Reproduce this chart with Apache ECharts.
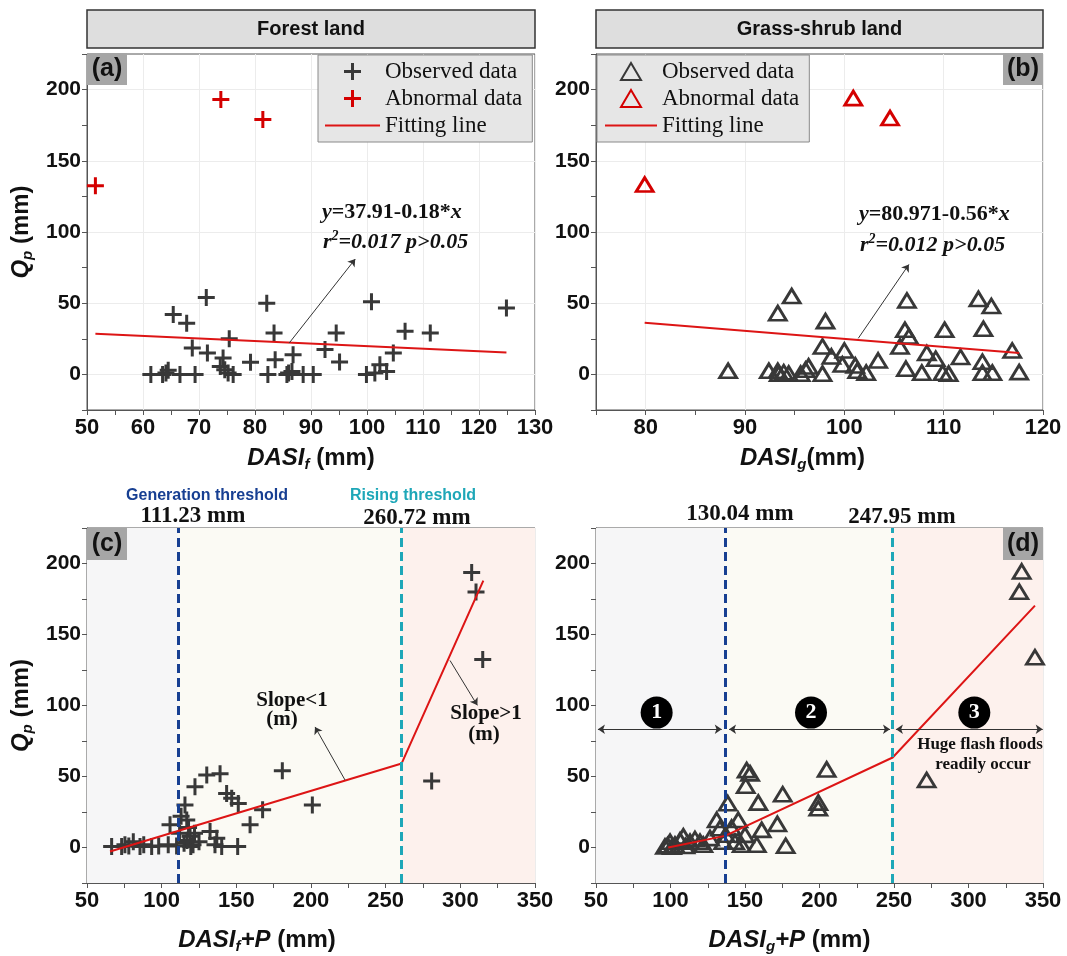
<!DOCTYPE html>
<html><head><meta charset="utf-8">
<script src="https://cdn.jsdelivr.net/npm/echarts@6/dist/echarts.min.js"></script>
<style>html,body{margin:0;padding:0;background:#fff}#c{width:1067px;height:956px}</style>
</head><body><div id="c"></div>
<script>
// ---------------- data ----------------
const forestObs = [[61.4,0],[63.5,0],[64.1,1],[64.5,3],[66.6,0],[69.3,0],[65.4,42],[67.8,36],[71.3,54],[68.8,18.5],[71.5,15],[74.3,11.5],[73.8,5.6],[74.6,3.3],[75.2,1],[76.1,0],[75.4,25],[79.2,8.5],[82.1,50],[82.3,0],[83.4,29],[83.6,10.3],[85.7,0],[86,1],[86.6,2],[86.8,13.8],[88.6,0],[90.4,0],[92.5,17.4],[94.5,29],[95.1,8.7],[99.9,0],[100.8,51],[101.4,1],[102.3,6.8],[103.5,2],[104.7,15],[106.8,30.3],[111.3,29],[124.9,46.7]];
const forestAbn = [[51.5,132.5],[73.9,193],[81.4,179]];
const forestFit = [[51.5,28.6],[124.9,15.4]];

const grassObs = [[88.3,2.5],[92.4,2.5],[93.3,2.5],[93.4,0.5],[93.9,1.5],[94.4,0.5],[93.3,43],[94.7,55],[95.6,0.5],[96.1,3.3],[96.4,5.6],[97.8,0.5],[97.8,19.6],[98.1,37.4],[98.7,12.6],[99.8,7],[100,16.8],[101.1,6.3],[101.3,2.6],[102.2,1.2],[103.4,9.8],[105.6,19.6],[106.1,31.3],[106.5,26.6],[106.3,51.9],[106.2,4],[107.8,1.2],[108.3,15],[109.2,11],[109.9,1.2],[110.5,0.5],[110.1,31.3],[111.7,12.2],[113.5,53],[114,32],[113.9,8.9],[113.9,1.2],[114.8,48],[114.9,1.2],[116.9,16.8],[117.6,1.6]];
const grassAbn = [[79.9,133.3],[100.9,194],[104.6,180]];
const grassFit = [[79.9,36.2],[117.6,15.1]];

const forestSum = [[307.6,193.7],[310.5,180],[315,132.4],[280.8,46.8],[180.8,54],[200.9,30],[167.6,26.5],[159.2,16],[150.9,0.7],[151.3,31],[146.9,34.7],[143.5,38],[139.1,52],[130.2,51],[122.3,42.8],[115.6,30],[105.6,16],[116.8,19.4],[132.4,11.2],[136.9,6.6],[140.2,0.7],[135.7,2],[119,8],[122,10],[115,3],[119.5,0.7],[121,2],[112,10],[117,5],[104.4,2],[93.3,0.7],[85.5,0.7],[81,4],[75.4,2],[73.2,0.7],[66.5,0.7],[78,1],[88,2],[98,1],[110,1],[118,14],[125,4],[113,22]];
const forestSumFit = [[65.4,-2.8],[260.7,59.2],[315.4,187.9]];

const grassSum = [[335.7,194.4],[334.1,180.1],[344.6,134],[271.9,47.5],[204.8,55],[199.2,31.6],[199.2,27.6],[175.3,37.5],[177.3,1.2],[171.7,16.6],[158.9,31.6],[161.2,12.4],[157.9,1.9],[153.4,52.2],[151.1,54.5],[150.5,43.5],[138.4,31.2],[145.5,19.4],[150,8.9],[143.3,4],[147.8,1.9],[131,19.4],[133.2,13.6],[135.4,4],[126.5,6.6],[122,2],[96.3,0.7],[99.7,4],[103,2],[106.4,5],[108.6,7.8],[113.1,4],[116.4,6],[119.8,4],[98,1.5],[101,0.5],[110,1],[137,9],[141,14]];
const grassSumFit = [[98.5,0],[136.6,8.2],[249.1,63.4],[344.6,170.3]];

const forestThresholds = [111.23, 260.72];
const grassThresholds = [136.5, 248.5];
const forestThresholdLabels = ['111.23 mm', '260.72 mm'];
const grassThresholdLabels = ['130.04 mm', '247.95 mm'];

const xTicksA = [50,60,70,80,90,100,110,120,130];
const xTicksB = [80,90,100,110,120];
const xTicksCD = [50,100,150,200,250,300,350];
const yTicks = [0,50,100,150,200];

// annotation anchors (data space)
const arrowA = [[86.1,22],[97.9,81]];
const arrowB = [[101.4,25.3],[106.5,77.2]];
const arrowC1 = [[222.8,47.5],[202.7,84.9]];
const arrowC2 = [[293.1,131.7],[311.4,100.1]];
const stageArrows = [[[51.3,83.3],[134.4,83.3]],[[139.3,83.3],[247.3,83.3]],[[251.3,83.3],[349.8,83.3]]];
const stageMarks = [[90.7,95,'1'],[194.3,95,'2'],[303.9,95,'3']];

// ---------------- styles ----------------
const SANS = '"Liberation Sans", Arial, sans-serif';
const SERIF = '"Liberation Serif", "Times New Roman", serif';
const PLUS = 'path://M7,0H10V7H17V10H10V17H7V10H0V7H7Z';
const TRI = 'path://M10,0L20,17L0,17Z';
const LINEICON = 'path://M0,0H60V2.4H0Z';
const DARK = '#383838', RED = '#d40000', FITC = '#dd1515';
const BLUE = '#173f92', TEAL = '#1ea7b8';
const GRIDC = '#ececec', NONE = 'rgba(0,0,0,0)';

function nameRich(size) {
  return {
    i: {fontFamily: SANS, fontWeight: 'bold', fontStyle: 'italic', fontSize: size, lineHeight: 28, color: '#111'},
    s: {fontFamily: SANS, fontWeight: 'bold', fontStyle: 'italic', fontSize: 15, lineHeight: 14, verticalAlign: 'bottom', color: '#111'},
    n: {fontFamily: SANS, fontWeight: 'bold', fontSize: size, lineHeight: 28, color: '#111'}
  };
}

function mkX(gi, min, max, step, ticks, name, gap, padRight, splitColors) {
  return {
    type: 'value', gridIndex: gi, min: min, max: max, interval: step,
    name: name, nameLocation: 'middle', nameGap: gap,
    nameTextStyle: {rich: nameRich(24), padding: [0, padRight, 0, 0]},
    axisLine: {show: true, onZero: false, lineStyle: {color: '#555', width: 1}},
    axisTick: {show: true, inside: false, length: 5, lineStyle: {color: '#555'}},
    axisLabel: {fontFamily: SANS, fontWeight: 'bold', fontSize: 22, color: '#111', margin: 7,
      formatter: v => ticks.includes(v) ? String(v) : ''},
    splitLine: {show: true, lineStyle: {color: splitColors, width: 1}}
  };
}
function mkY(gi, withName) {
  return {
    type: 'value', gridIndex: gi, min: -25, max: 225, interval: 25,
    name: withName ? '{i|Q}{s|p}{n| (mm)}' : '', nameLocation: 'middle', nameGap: 52,
    nameTextStyle: {rich: nameRich(24)},
    axisLine: {show: true, onZero: false, lineStyle: {color: '#555', width: 1}},
    axisTick: {show: true, inside: false, length: 5, lineStyle: {color: '#555'}},
    axisLabel: {fontFamily: SANS, fontWeight: 'bold', fontSize: 21, color: '#111', margin: 6,
      formatter: v => yTicks.includes(v) ? String(v) : ''},
    splitLine: {show: true, lineStyle: {color: [NONE, GRIDC], width: 1}}
  };
}

const legendNames = {
  a_obs: 'Observed data', a_abn: 'Abnormal data', a_fit: 'Fitting line',
  b_obs: 'Observed data', b_abn: 'Abnormal data', b_fit: 'Fitting line'
};
function mkLegend(left, names, iw, padL) {
  return {
    orient: 'vertical', left: left, top: 55, padding: [5, 10, 5, padL],
    itemWidth: iw, itemHeight: 17, itemGap: 4,
    backgroundColor: '#e6e6e6', borderColor: '#8a8a8a', borderWidth: 1, borderRadius: 0,
    textStyle: {fontFamily: SERIF, fontSize: 23, color: '#111'},
    selectedMode: false,
    data: [{name: names[0]}, {name: names[1]}, {name: names[2], icon: LINEICON}],
    formatter: n => legendNames[n]
  };
}

const arrowLine = (pairs, sym) => ({
  silent: true, symbol: sym, symbolSize: 7, animation: false,
  lineStyle: {color: '#333', width: 1, type: 'solid'}, label: {show: false},
  data: pairs.map(p => [{coord: p[0]}, {coord: p[1]}])
});
const thresholdLines = (vals) => ({
  silent: true, symbol: 'none', animation: false, label: {show: false},
  data: [
    {xAxis: vals[0], lineStyle: {color: BLUE, width: 3, type: [9, 5]}},
    {xAxis: vals[1], lineStyle: {color: TEAL, width: 3, type: [9, 5]}}
  ]
});
const regions = (vals) => ({
  silent: true, animation: false,
  data: [
    [{xAxis: 50, itemStyle: {color: '#f6f6f7'}}, {xAxis: vals[0]}],
    [{xAxis: vals[0], itemStyle: {color: '#fbfaf4'}}, {xAxis: vals[1]}],
    [{xAxis: vals[1], itemStyle: {color: '#fdf1ed'}}, {xAxis: 350}]
  ]
});

const plusStyle = c => ({color: c, opacity: 1});
const triStyle = c => ({color: NONE, borderColor: c, borderWidth: 2.8, opacity: 1});

const series = [
  // (a)
  {name: 'a_obs', type: 'scatter', xAxisIndex: 0, yAxisIndex: 0, symbol: PLUS, symbolSize: 17, itemStyle: plusStyle(DARK), data: forestObs, z: 3},
  {name: 'a_abn', type: 'scatter', xAxisIndex: 0, yAxisIndex: 0, symbol: PLUS, symbolSize: 17, itemStyle: plusStyle(RED), data: forestAbn, z: 3},
  {name: 'a_fit', type: 'line', xAxisIndex: 0, yAxisIndex: 0, symbol: 'none', showSymbol: false, lineStyle: {color: FITC, width: 2}, itemStyle: {color: FITC}, data: forestFit, z: 4,
    markLine: arrowLine([arrowA], ['none', 'arrow'])},
  // (b)
  {name: 'b_obs', type: 'scatter', xAxisIndex: 1, yAxisIndex: 1, symbol: TRI, symbolSize: [17, 14], itemStyle: triStyle(DARK), data: grassObs, z: 3},
  {name: 'b_abn', type: 'scatter', xAxisIndex: 1, yAxisIndex: 1, symbol: TRI, symbolSize: [17, 14], itemStyle: triStyle(RED), data: grassAbn, z: 3},
  {name: 'b_fit', type: 'line', xAxisIndex: 1, yAxisIndex: 1, symbol: 'none', showSymbol: false, lineStyle: {color: FITC, width: 2}, itemStyle: {color: FITC}, data: grassFit, z: 4,
    markLine: arrowLine([arrowB], ['none', 'arrow'])},
  // (c)
  {name: 'c_bg', type: 'line', xAxisIndex: 2, yAxisIndex: 2, data: [], z: 1, markArea: regions([forestThresholds[0], forestThresholds[1]]), markLine: thresholdLines(forestThresholds)},
  {name: 'c_obs', type: 'scatter', xAxisIndex: 2, yAxisIndex: 2, symbol: PLUS, symbolSize: 17, itemStyle: plusStyle(DARK), data: forestSum, z: 3},
  {name: 'c_fit', type: 'line', xAxisIndex: 2, yAxisIndex: 2, symbol: 'none', showSymbol: false, lineStyle: {color: FITC, width: 2}, data: forestSumFit, z: 4,
    markLine: arrowLine([arrowC1, arrowC2], ['none', 'arrow'])},
  // (d)
  {name: 'd_bg', type: 'line', xAxisIndex: 3, yAxisIndex: 3, data: [], z: 1, markArea: regions([grassThresholds[0], grassThresholds[1]]), markLine: thresholdLines(grassThresholds)},
  {name: 'd_obs', type: 'scatter', xAxisIndex: 3, yAxisIndex: 3, symbol: TRI, symbolSize: [17, 14], itemStyle: triStyle(DARK), data: grassSum, z: 3},
  {name: 'd_fit', type: 'line', xAxisIndex: 3, yAxisIndex: 3, symbol: 'none', showSymbol: false, lineStyle: {color: FITC, width: 2}, data: grassSumFit, z: 4,
    markLine: arrowLine(stageArrows, ['arrow', 'arrow']),
    markPoint: {silent: true, animation: false, symbol: 'circle', symbolSize: 32, itemStyle: {color: '#000'},
      label: {show: true, color: '#fff', fontFamily: SERIF, fontWeight: 'bold', fontSize: 22, formatter: p => p.data.name},
      data: stageMarks.map(m => ({coord: [m[0], m[1]], name: m[2]}))}}
];

// ---------------- graphics ----------------
function titleBox(x, w, text) {
  return [{type: 'rect', z: 100, shape: {x: x, y: 10, width: w, height: 38}, style: {fill: '#dedede', stroke: '#333', lineWidth: 1.5}},
          {type: 'text', z: 101, x: x + w / 2, y: 29, style: {text: text, fill: '#111', font: 'bold 20px ' + SANS, align: 'center', verticalAlign: 'middle'}}];
}
function tag(x, y, text) {
  return [{type: 'rect', z: 100, shape: {x: x, y: y, width: 40, height: 32}, style: {fill: '#a6a6a6'}},
          {type: 'text', z: 101, x: x + 20, y: y + 16, style: {text: text, fill: '#111', font: 'bold 25px ' + SANS, align: 'center', verticalAlign: 'middle'}}];
}
function t(x, y, text, font, color, align) {
  return {type: 'text', z: 101, x: x, y: y, style: {text: text, fill: color || '#111', font: font, align: align || 'center', verticalAlign: 'middle', lineHeight: 20}};
}
const eqRich = {
  i: {fontFamily: SERIF, fontWeight: 'bold', fontStyle: 'italic', fontSize: 22, lineHeight: 26, fill: '#111', color: '#111'},
  b: {fontFamily: SERIF, fontWeight: 'bold', fontSize: 22, lineHeight: 26, fill: '#111', color: '#111'},
  sup: {fontFamily: SERIF, fontWeight: 'bold', fontStyle: 'italic', fontSize: 14, lineHeight: 14, verticalAlign: 'top', fill: '#111', color: '#111'}
};
function eq(x, y, text) {
  return {type: 'text', z: 101, x: x, y: y, style: {text: text, rich: eqRich, align: 'left', verticalAlign: 'middle'}};
}
const BT = 'bold 21px ' + SERIF;
const BT23 = 'bold 23px ' + SERIF;
const graphics = [].concat(
  titleBox(87, 448, 'Forest land'), titleBox(596, 447, 'Grass-shrub land'),
  tag(87, 53, '(a)'), tag(1003, 53, '(b)'), tag(87, 528, '(c)'), tag(1003, 528, '(d)'),
  [
    eq(322, 212, '{i|y}{b|=37.91-0.18*}{i|x}'),
    eq(323, 242, '{i|r}{sup|2}{i|=0.017 p>0.05}'),
    eq(859, 214, '{i|y}{b|=80.971-0.56*}{i|x}'),
    eq(860, 245, '{i|r}{sup|2}{i|=0.012 p>0.05}'),
    t(207, 496, 'Generation threshold', 'bold 16px ' + SANS, BLUE),
    t(193, 516, forestThresholdLabels[0], BT23),
    t(413, 496, 'Rising threshold', 'bold 16px ' + SANS, TEAL),
    t(417, 518, forestThresholdLabels[1], BT23),
    t(292, 701, 'Slope<1', BT), t(282, 720, '(m)', BT),
    t(486, 714, 'Slope>1', BT), t(484, 735, '(m)', BT),
    t(740, 514, grassThresholdLabels[0], BT23),
    t(902, 517, grassThresholdLabels[1], BT23),
    t(980, 745, 'Huge flash floods', 'bold 17px ' + SERIF), t(983, 765, 'readily occur', 'bold 17px ' + SERIF)
  ]
);

const option = {
  animation: false,
  backgroundColor: '#fff',
  grid: [
    {left: 87, top: 54, width: 448, height: 356, show: true, borderColor: '#555', borderWidth: 1, backgroundColor: '#fff'},
    {left: 596, top: 54, width: 447, height: 356, show: true, borderColor: '#555', borderWidth: 1, backgroundColor: '#fff'},
    {left: 87, top: 528, width: 448, height: 355, show: true, borderColor: '#555', borderWidth: 1, backgroundColor: '#fff'},
    {left: 596, top: 528, width: 447, height: 355, show: true, borderColor: '#555', borderWidth: 1, backgroundColor: '#fff'}
  ],
  xAxis: [
    mkX(0, 50, 130, 5, xTicksA, '{i|DASI}{s|f}{n| (mm)}', 34, 0, [GRIDC, NONE]),
    mkX(1, 75, 120, 5, xTicksB, '{i|DASI}{s|g}{n|(mm)}', 34, 34, [NONE, GRIDC]),
    mkX(2, 50, 350, 25, xTicksCD, '{i|DASI}{s|f}{i|+P}{n| (mm)}', 43, 108, [GRIDC, NONE]),
    mkX(3, 50, 350, 25, xTicksCD, '{i|DASI}{s|g}{i|+P}{n| (mm)}', 43, 60, [GRIDC, NONE])
  ],
  yAxis: [mkY(0, true), mkY(1, false), mkY(2, true), mkY(3, false)],
  legend: [
    mkLegend(318, ['a_obs', 'a_abn', 'a_fit'], 55, 7),
    mkLegend(597, ['b_obs', 'b_abn', 'b_fit'], 52, 8)
  ],
  series: series,
  graphic: {elements: graphics}
};

const chart = echarts.init(document.getElementById('c'), null, {renderer: 'canvas'});
chart.setOption(option);
</script>
</body></html>
